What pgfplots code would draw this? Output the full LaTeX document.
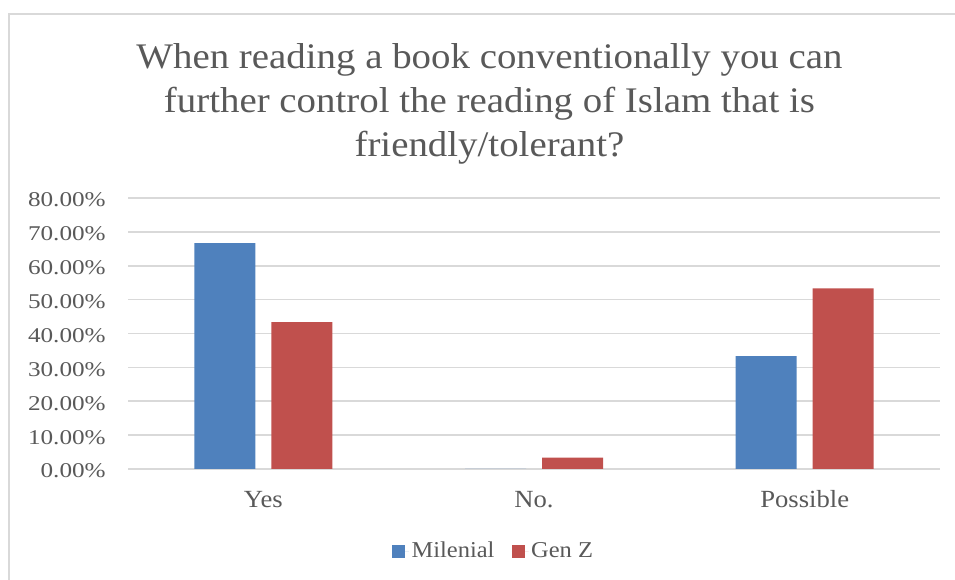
\documentclass[border=0pt]{standalone}
\usepackage{fontspec}
\usepackage{pgfplots}
\pgfplotsset{compat=1.18}
\setmainfont[FakeStretch=1.08]{Liberation Serif}
\newfontfamily\tickfont[FakeStretch=1.2]{Liberation Serif}

\definecolor{milenial}{HTML}{4F81BD}
\definecolor{genz}{HTML}{C0504D}
\definecolor{txt}{HTML}{595959}
\definecolor{gridc}{HTML}{D9D9D9}

\begin{document}
\begin{tikzpicture}[x=0.75pt,y=0.75pt]
\useasboundingbox (0,0) rectangle (955,580);
% chart frame
\draw[gridc, line width=1.1pt] (9,0) -- (9,566) -- (955,566);

% title
\begin{scope}[every node/.style={text=txt, font=\fontsize{27pt}{33pt}\selectfont, inner sep=0pt, anchor=base}]
\node at (489.5,511) {When reading a book conventionally you can};
\node at (489.5,467) {further control the reading of Islam that is};
\node at (489.5,423) {friendly/tolerant?};
\end{scope}

\begin{axis}[
  at={(96pt,83.25pt)}, anchor=south west,
  scale only axis,
  width=609pt, height=203.25pt,
  xmin=-0.5, xmax=2.5,
  ymin=0, ymax=80,
  ytick={0,10,...,80},
  xtick={0,1,2},
  xticklabels={Yes,No.,Possible},
  major tick length=0pt,
  axis line style={draw=none},
  ymajorgrids,
  grid style={gridc, line width=1.2pt},
  ybar=12pt,
  bar width=45.75pt,
  /pgf/number format/assume math mode=true,
  yticklabel={\pgfmathprintnumber[fixed,fixed zerofill,precision=2]{\tick}\%},
  yticklabel style={text=txt, font=\tickfont\fontsize{15.75pt}{18pt}\selectfont,
    anchor=base east, inner sep=0pt, xshift=-16.5pt, yshift=-6.75pt},
  xticklabel style={text=txt, font=\fontsize{18.5pt}{22pt}\selectfont,
    anchor=base, inner sep=0pt, yshift=-29.25pt},
  legend columns=2,
  legend style={draw=none, at={(0.4507,-0.3026)}, anchor=center,
    font=\fontsize{17pt}{22pt}\selectfont, text=txt,
    /tikz/every even column/.append style={column sep=11pt}},
  legend image code/.code={\fill[#1] (0pt,-4.875pt) rectangle (9.75pt,4.875pt);
    \path (0pt,0pt) -- (12.5pt,0pt);},
]
\addplot[fill=milenial, draw=none] coordinates {(0,66.67) (1,0) (2,33.33)};
\addplot[fill=genz, draw=none] coordinates {(0,43.33) (1,3.33) (2,53.33)};
\legend{Milenial,Gen Z}
\end{axis}
\end{tikzpicture}
\end{document}
